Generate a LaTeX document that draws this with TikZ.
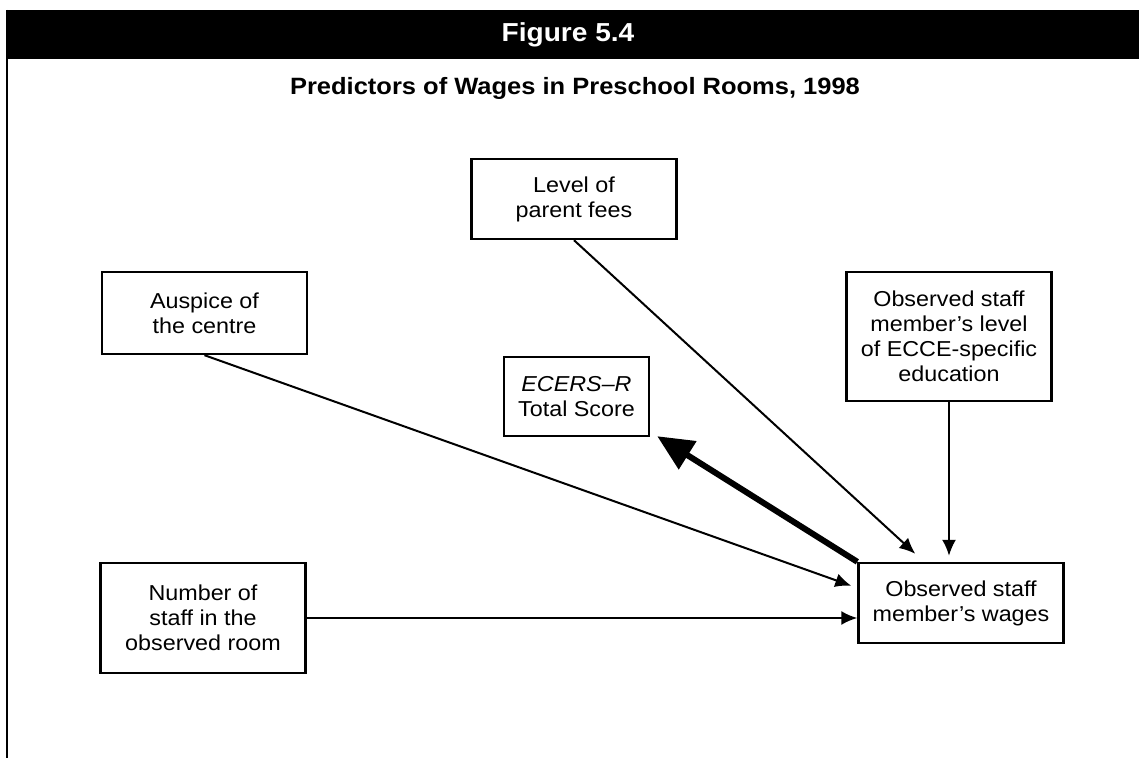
\documentclass[tikz,border=0pt]{standalone}
\usepackage{fontspec}
\setmainfont{Liberation Sans}[FakeStretch=1.08]
\usetikzlibrary{arrows.meta, positioning}

\tikzset{
  box/.style={draw, line width=1.2pt, align=center, inner sep=0pt,
    minimum width=102.5pt, font=\fontsize{10.8}{12.5}\selectfont},
  arr/.style={-{Latex[length=8pt,width=7pt]}, line width=1pt},
  bigarr/.style={-{Triangle[length=18pt,width=16pt]}, line width=3pt},
}

\begin{document}
\begin{tikzpicture}[x=0.5pt, y=-0.5pt, node distance=100pt]
  \useasboundingbox (0,0) rectangle (1139,758);
  % frame and heading
  \fill (7,10) rectangle (1139,59);
  \draw[line width=1.2pt] (7,10) -- (7,758);
  \node[text=white, font=\bfseries\fontsize{13}{15}\selectfont] (fig) at (568,35) {Figure 5.4};
  \node[font=\bfseries\fontsize{11.8}{13}\selectfont] (title) at (575,88) {Predictors of Wages in Preschool Rooms, 1998};

  % boxes
  \node[box, minimum height=40pt] (wages) at (961,603) {Observed staff\\member’s wages};
  \node[box, minimum height=55pt, left of=wages, xshift=-279pt, yshift=-7.5pt] (staff) {Number of\\staff in the\\observed room};
  \node[box, minimum height=64.5pt, above of=wages, xshift=-6pt, yshift=33.25pt] (ecce) {Observed staff\\member’s level\\of ECCE-specific\\education};
  \node[box, minimum width=72.5pt, minimum height=39.5pt, left of=ecce, xshift=-86.25pt, yshift=-30pt] (ecers) {\textit{ECERS–R}\\Total Score};
  \node[box, minimum height=40pt, above of=ecers, xshift=-1.25pt, yshift=-1.25pt] (fees) {Level of\\parent fees};
  \node[box, minimum height=41pt, above of=staff, xshift=0.75pt, yshift=52.5pt] (auspice) {Auspice of\\the centre};

  % paths
  \draw[arr] (staff.east) -- (staff.east -| wages.west);
  \draw[arr] (auspice.south) -- ([xshift=-3pt,yshift=-12pt]wages.north west);
  \draw[arr] (fees.south) -- ([xshift=29pt,yshift=4pt]wages.north west);
  \draw[arr, shorten >=3pt] (ecce.south) -- (ecce.south |- wages.north);
  \draw[bigarr] (wages.north west) -- ([xshift=3.5pt,yshift=0.5pt]ecers.south east);
\end{tikzpicture}
\end{document}
